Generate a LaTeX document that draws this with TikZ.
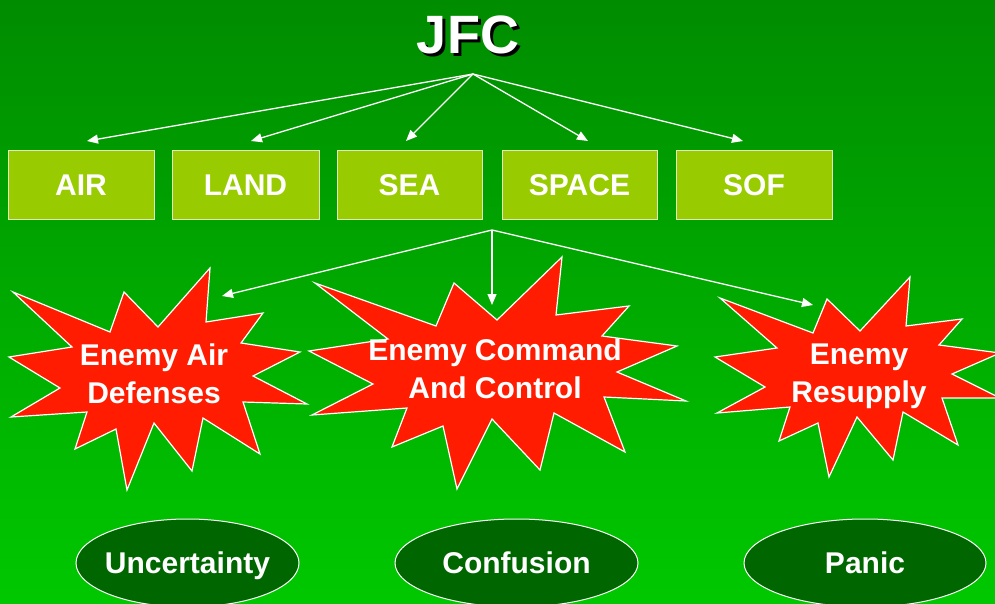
\documentclass[tikz,border=0pt]{standalone}
\usepackage{fontspec}
\setmainfont{Liberation Sans}
\usetikzlibrary{arrows.meta,shapes.geometric}
\definecolor{bgtop}{RGB}{0,140,0}
\definecolor{bgbot}{RGB}{0,200,0}
\definecolor{boxfill}{RGB}{153,204,0}
\definecolor{boxedge}{RGB}{225,240,190}
\definecolor{burstred}{RGB}{255,28,0}
\definecolor{ovalfill}{RGB}{0,102,0}

\begin{document}
\begin{tikzpicture}[x=1pt,y=-1pt,
  branch/.style={draw=white,line width=1.3pt,-{Triangle[length=11pt,width=9pt]}},
  service/.style={draw=boxedge,line width=1pt,fill=boxfill,minimum height=68pt,
    inner sep=0pt,text=white,font=\bfseries\fontsize{30}{36}\selectfont},
  burst/.style={draw=white,line width=1.2pt,fill=burstred},
  bursttext/.style={text=white,align=center,font=\bfseries\fontsize{30}{38}\selectfont},
  oval/.style={draw=white,line width=1pt,fill=ovalfill},
  effect/.style={inner sep=0pt,text=white,font=\bfseries\fontsize{30}{36}\selectfont,
    text height=21.5pt,text depth=0pt},
  title/.style={font=\bfseries\fontsize{54}{60}\selectfont,inner sep=0pt}
]
\useasboundingbox (0,0) rectangle (995,604);
\begin{scope}
\clip (0,0) rectangle (995,604);
% background gradient
\shade[top color=bgtop,bottom color=bgbot] (0,0) rectangle (995,604);

% title with drop shadow
\node[title,text=black] (jfcshadow) at (471,38) {JFC};
\node[title,text=white] (jfc) at (468,35) {JFC};

% component boxes
\node[service,minimum width=146pt] (air)   at (81,185)    {AIR};
\node[service,minimum width=147pt] (land)  at (245.5,185) {LAND};
\node[service,minimum width=145pt] (sea)   at (409.5,185) {SEA};
\node[service,minimum width=155pt] (space) at (579.5,185) {SPACE};
\node[service,minimum width=156pt] (sof)   at (754,185)   {SOF};

% arrows from the commander
\coordinate (hubtop) at (473,74);
\coordinate (tair)   at (87,141);
\coordinate (tland)  at (251,141);
\coordinate (tsea)   at (406,141);
\coordinate (tspace) at (588,141);
\coordinate (tsof)   at (743,141);
\foreach \t in {tair,tland,tsea,tspace,tsof}
  \draw[branch] (hubtop) -- (\t);

% target starbursts
\draw[burst] (13,292) -- (110,332) -- (124,292) -- (158,327) -- (210,268) -- (206,322)
  -- (263,313) -- (241,343) -- (300,352) -- (253,376) -- (307,404) -- (243,402)
  -- (260,454) -- (203,418) -- (192,471) -- (154,423) -- (127,490) -- (116,429)
  -- (75,449) -- (87,412) -- (11,417) -- (60,388) -- (9,357) -- (72,347) -- cycle;
\draw[burst] (315,283) -- (436,326) -- (454,283) -- (497,320) -- (562,257) -- (556,315)
  -- (629,306) -- (602,336) -- (677,346) -- (617,372) -- (686,401) -- (604,397)
  -- (625,452) -- (554,413) -- (540,470) -- (492,419) -- (457,489) -- (443,426)
  -- (392,447) -- (407,408) -- (312,415) -- (373,384) -- (309,351) -- (388,339) -- cycle;
\draw[burst] (720,298) -- (813,333) -- (827,299) -- (860,331) -- (910,277) -- (906,326)
  -- (962,319) -- (939,345) -- (1000,353) -- (952,374) -- (1000,398) -- (942,398)
  -- (958,445) -- (903,412) -- (893,460) -- (857,417) -- (829,477) -- (818,423)
  -- (779,441) -- (790,407) -- (717,413) -- (765,387) -- (715,357) -- (777,348) -- cycle;

\node[bursttext] (airdef)   at (154,374)   {Enemy Air\\Defenses};
\node[bursttext] (command)  at (495,368.5) {Enemy Command\\And Control};
\node[bursttext] (resupply) at (859,376)   {Enemy\\Resupply};

% arrows to the targets
\coordinate (hubmid) at (492,230);
\coordinate (tairdef)   at (222,296);
\coordinate (tcommand)  at (492,305);
\coordinate (tresupply) at (813,305);
\foreach \t in {tairdef,tcommand,tresupply}
  \draw[branch] (hubmid) -- (\t);

% resulting effects
\coordinate (cunc) at (187.5,563);
\coordinate (ccon) at (516.5,563);
\coordinate (cpan) at (865,563);
\draw[oval] (cunc) ellipse [x radius=111.5, y radius=44];
\draw[oval] (ccon) ellipse [x radius=121.5, y radius=44];
\draw[oval] (cpan) ellipse [x radius=121, y radius=44];
\node[effect] (uncertainty) at (cunc) {Uncertainty};
\node[effect] (confusion)   at (ccon) {Confusion};
\node[effect] (panic)       at (cpan) {Panic};
\end{scope}
\end{tikzpicture}
\end{document}
